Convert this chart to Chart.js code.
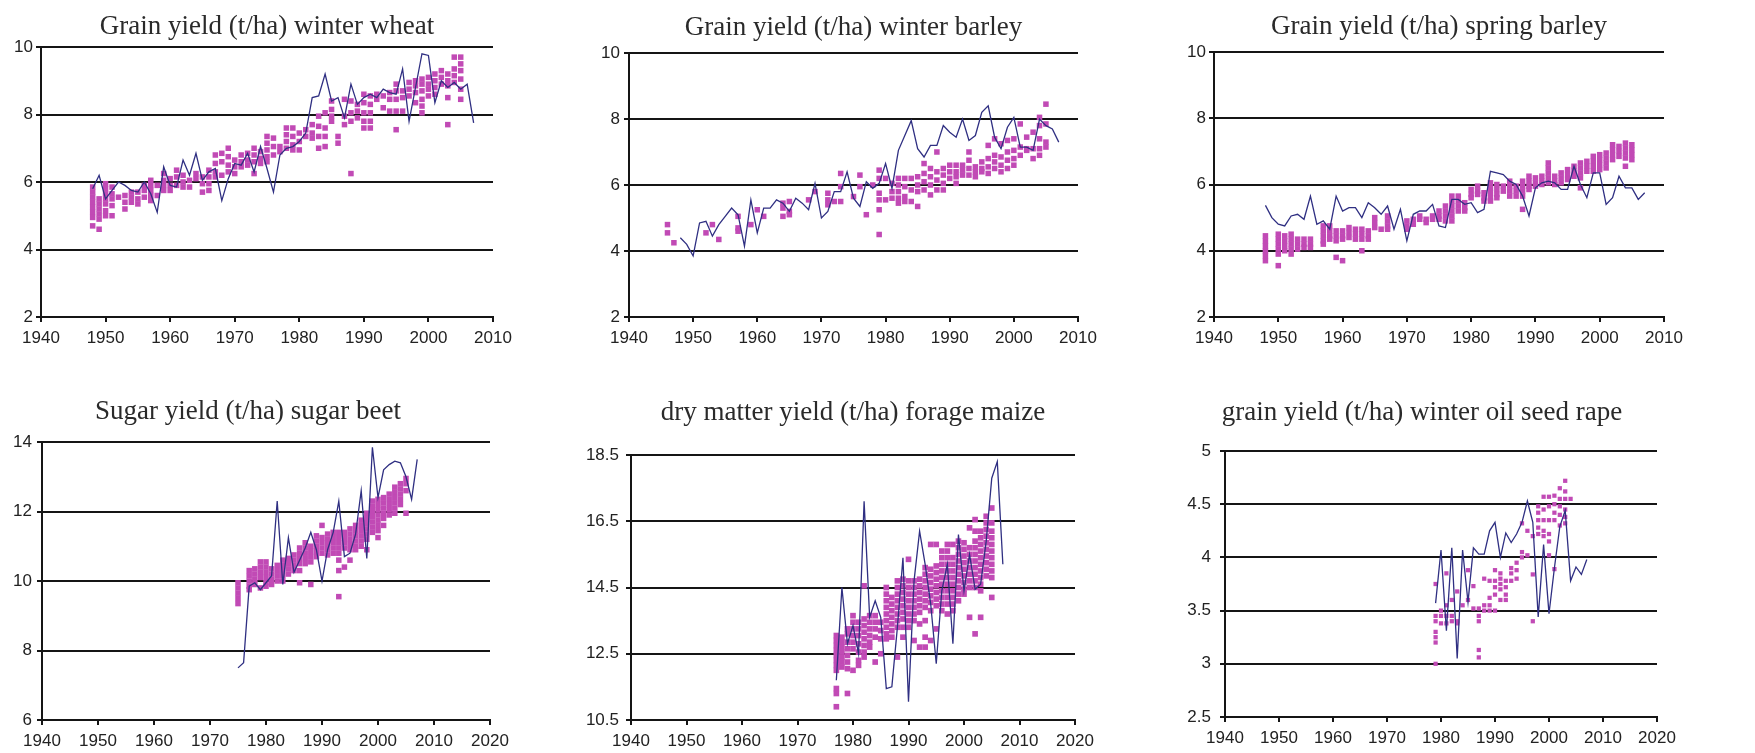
<!DOCTYPE html>
<html>
<head>
    <meta charset="UTF-8">
    <title>Crop yields</title>
    <style>
        body { margin: 0; background: #fff; width: 1755px; height: 753px; overflow: hidden; position: relative; }
        canvas { position: absolute; }
    </style>
</head>
<body>
<canvas id="c1"></canvas>
<canvas id="c2"></canvas>
<canvas id="c3"></canvas>
<canvas id="c4"></canvas>
<canvas id="c5"></canvas>
<canvas id="c6"></canvas>
<script src="https://cdn.jsdelivr.net/npm/chart.js"></script>
<script>
    // tick labels
    var xTicksTop = [1940, 1950, 1960, 1970, 1980, 1990, 2000, 2010];
    var xTicksBottom = [1940, 1950, 1960, 1970, 1980, 1990, 2000, 2010, 2020];
    var yTicksGrain = [2, 4, 6, 8, 10];
    var yTicksBeet = [6, 8, 10, 12, 14];
    var yTicksMaize = [10.5, 12.5, 14.5, 16.5, 18.5];
    var yTicksRape = [2.5, 3, 3.5, 4, 4.5, 5];

    // line series [year, value]
    var wheatLine = [[1948,5.8],[1949,6.2],[1950,5.5],[1951,5.75],[1952,6.0],[1953,5.9],[1954,5.75],[1955,5.7],[1956,6.0],[1957,5.65],
        [1958,5.1],[1959,6.45],[1960,5.9],[1961,5.85],[1962,6.65],[1963,6.2],[1964,6.85],[1965,6.05],[1966,6.3],[1967,6.4],
        [1968,5.45],[1969,6.1],[1970,6.55],[1971,6.5],[1972,6.85],[1973,6.3],[1974,7.05],[1975,6.4],[1976,5.7],[1977,6.8],
        [1978,7.0],[1979,7.05],[1980,7.2],[1981,7.45],[1982,8.5],[1983,8.55],[1984,9.2],[1985,8.4],[1986,8.5],[1987,7.9],
        [1988,8.9],[1989,8.3],[1990,8.5],[1991,8.6],[1992,8.5],[1993,8.75],[1994,8.65],[1995,8.6],[1996,9.35],[1997,7.8],
        [1998,8.8],[1999,9.8],[2000,9.75],[2001,8.35],[2002,9.0],[2003,8.8],[2004,8.95],[2005,8.75],[2006,8.9],[2007,7.75]];
    var winterBarleyLine = [[1948,4.4],[1949,4.2],[1950,3.85],[1951,4.85],[1952,4.9],[1953,4.45],[1954,4.8],[1955,5.05],[1956,5.3],[1957,5.1],
        [1958,4.15],[1959,5.55],[1960,4.55],[1961,5.3],[1962,5.3],[1963,5.55],[1964,5.45],[1965,5.2],[1966,5.6],[1967,5.45],
        [1968,5.25],[1969,6.05],[1970,5.0],[1971,5.2],[1972,5.8],[1973,5.8],[1974,6.4],[1975,5.6],[1976,5.35],[1977,6.1],
        [1978,5.9],[1979,6.05],[1980,6.65],[1981,5.9],[1982,7.05],[1983,7.5],[1984,7.95],[1985,7.1],[1986,6.85],[1987,7.2],
        [1988,7.2],[1989,7.8],[1990,7.6],[1991,7.45],[1992,8.0],[1993,7.35],[1994,7.5],[1995,8.2],[1996,8.4],[1997,7.45],
        [1998,7.1],[1999,7.75],[2000,8.05],[2001,7.15],[2002,7.15],[2003,7.05],[2004,8.0],[2005,7.8],[2006,7.7],[2007,7.3]];
    var springBarleyLine = [[1948,5.37],[1949,5.0],[1950,4.8],[1951,4.75],[1952,5.05],[1953,5.1],[1954,4.95],[1955,5.65],[1956,4.8],[1957,4.9],
        [1958,4.65],[1959,5.65],[1960,5.2],[1961,5.3],[1962,5.3],[1963,5.0],[1964,5.45],[1965,5.3],[1966,5.1],[1967,5.35],
        [1968,4.65],[1969,5.25],[1970,4.3],[1971,5.1],[1972,5.2],[1973,5.2],[1974,5.4],[1975,4.75],[1976,4.7],[1977,5.55],
        [1978,5.55],[1979,5.4],[1980,5.45],[1981,5.15],[1982,5.25],[1983,6.4],[1984,6.35],[1985,6.3],[1986,6.1],[1987,6.0],
        [1988,5.65],[1989,5.05],[1990,5.9],[1991,6.05],[1992,6.1],[1993,6.05],[1994,5.85],[1995,5.85],[1996,6.55],[1997,6.0],
        [1998,5.6],[1999,6.35],[2000,6.35],[2001,5.4],[2002,5.6],[2003,6.25],[2004,5.9],[2005,5.9],[2006,5.55],[2007,5.75]];
    var beetLine = [[1975,7.5],[1976,7.65],[1977,9.85],[1978,9.95],[1979,9.75],[1980,9.95],[1981,10.15],[1982,12.3],[1983,9.9],[1984,11.25],
        [1985,10.25],[1986,10.6],[1987,10.95],[1988,11.4],[1989,10.9],[1990,10.0],[1991,10.9],[1992,11.4],[1993,12.3],[1994,10.7],
        [1995,10.8],[1996,11.35],[1997,12.6],[1998,10.65],[1999,13.85],[2000,12.4],[2001,13.2],[2002,13.35],[2003,13.45],[2004,13.4],
        [2005,13.0],[2006,12.35],[2007,13.5]];
    var maizeLine = [[1977,11.7],[1978,14.5],[1979,12.8],[1980,13.35],[1981,12.5],[1982,17.1],[1983,13.6],[1984,14.1],[1985,13.6],[1986,11.45],
        [1987,11.5],[1988,13.3],[1989,15.4],[1990,11.05],[1991,14.7],[1992,16.2],[1993,15.2],[1994,14.0],[1995,12.2],[1996,14.4],
        [1997,15.2],[1998,12.8],[1999,16.1],[2000,14.4],[2001,15.5],[2002,14.45],[2003,14.6],[2004,15.9],[2005,17.8],[2006,18.3],
        [2007,15.2]];
    var rapeLine = [[1979,3.57],[1980,4.07],[1981,3.31],[1982,4.09],[1983,3.05],[1984,4.07],[1985,3.58],[1986,4.09],[1987,4.03],[1988,4.03],
        [1989,4.25],[1990,4.33],[1991,4.0],[1992,4.23],[1993,4.14],[1994,4.22],[1995,4.33],[1996,4.53],[1997,4.33],[1998,3.44],
        [1999,4.12],[2000,3.47],[2001,3.9],[2002,4.29],[2003,4.44],[2004,3.78],[2005,3.91],[2006,3.84],[2007,3.98]];

    // site observations [year, [values]]
    var wheatPts = [[1948,[5.85,5.7,5.55,5.4,5.25,5.1,4.95,4.7]],[1949,[5.5,5.35,5.2,5.05,4.9,4.6]],[1950,[5.95,5.8,5.65,5.5,5.35,5.15,5.0]],
        [1951,[5.85,5.65,5.5,5.3,5.0]],[1952,[5.55]],[1953,[5.6,5.4,5.2]],[1954,[5.7,5.55,5.4]],[1955,[5.7,5.5,5.35]],
        [1956,[5.9,5.75,5.55]],[1957,[6.05,5.9,5.75,5.6,5.45]],[1958,[5.9,5.6]],[1959,[6.25,6.05,5.9,5.75]],[1960,[6.1,5.9,5.75]],
        [1961,[6.35,6.15,5.9]],[1962,[6.2,6.0,5.85]],[1963,[6.05,5.85]],[1964,[6.25,6.1]],[1965,[6.15,5.95,5.7]],
        [1966,[6.35,6.15,5.95,5.75]],[1967,[6.8,6.55,6.3,6.15]],[1968,[6.85,6.6,6.2]],[1969,[7.0,6.75,6.5,6.3]],
        [1970,[6.65,6.45,6.25]],[1971,[6.8,6.6,6.45]],[1972,[6.85,6.65,6.5]],[1973,[7.0,6.8,6.6,6.25]],[1974,[6.9,6.7,6.55]],
        [1975,[7.35,7.15,6.95,6.75,6.6]],[1976,[7.3,7.05,6.8]],[1977,[7.05,6.9]],[1978,[7.6,7.4,7.2,7.0]],[1979,[7.6,7.35,7.1,6.95]],
        [1980,[7.45,7.2,6.95]],[1981,[7.55,7.35]],[1982,[7.7,7.45,7.3]],[1983,[7.95,7.65,7.35,7.0]],[1984,[8.05,7.6,7.35,7.05]],
        [1985,[8.4,8.15,7.95,7.8]],[1986,[7.35,7.15]],[1987,[8.45,7.95,7.7]],[1988,[8.4,8.05,7.8,6.25]],[1989,[8.3,8.1,7.9]],
        [1990,[8.6,8.35,8.05,7.8,7.6]],[1991,[8.55,8.3,8.05,7.8,7.6]],[1992,[8.6,8.45]],[1993,[8.55,8.2]],[1994,[8.65,8.45,8.1]],
        [1995,[8.9,8.7,8.45,8.1,7.55]],[1996,[8.7,8.5,8.1]],[1997,[8.95,8.75,8.55]],[1998,[9.0,8.85,8.65,8.35]],
        [1999,[9.05,8.9,8.7,8.45,8.25,8.05]],[2000,[9.1,8.9,8.75,8.55]],[2001,[9.2,9.0,8.8,8.6]],[2002,[9.3,9.1,8.9]],
        [2003,[9.2,9.0,8.85,8.5,7.7]],[2004,[9.7,9.35,9.15,8.95]],[2005,[9.7,9.5,9.3,9.05,8.75,8.45]]];
    var winterBarleyPts = [[1946,[4.8,4.55]],[1947,[4.25]],[1952,[4.55]],[1953,[4.8]],[1954,[4.35]],[1957,[5.05,4.7,4.6]],[1959,[4.8]],
        [1960,[5.25]],[1961,[5.05]],[1964,[5.45,5.3,5.05]],[1965,[5.5,5.2,5.1]],[1968,[5.55]],[1969,[5.8]],[1971,[5.75,5.55,5.4]],
        [1972,[5.5]],[1973,[6.35,5.95,5.5]],[1975,[5.65]],[1976,[6.3,5.95]],[1977,[5.1]],[1978,[6.0]],[1979,[6.45,6.2,5.75,5.55,5.25,4.5]],
        [1980,[6.2,5.55]],[1981,[6.05,5.8,5.6]],[1982,[6.2,6.0,5.8,5.6,5.45]],[1983,[6.2,5.95,5.65,5.5]],[1984,[6.2,5.85,5.5]],
        [1985,[6.25,6.0,5.8,5.35]],[1986,[6.65,6.35,6.1,5.85]],[1987,[6.5,6.25,6.0,5.7]],[1988,[7.0,6.4,6.15,5.85]],
        [1989,[6.5,6.3,6.05,5.85]],[1990,[6.6,6.4,6.2]],[1991,[6.6,6.4,6.25,6.05]],[1992,[6.6,6.45,6.3]],[1993,[7.0,6.75,6.5,6.3]],
        [1994,[6.55,6.4,6.25]],[1995,[6.7,6.5,6.4]],[1996,[7.2,6.8,6.55,6.35]],[1997,[7.4,6.9,6.7,6.5]],[1998,[7.25,6.85,6.6,6.4]],
        [1999,[7.35,7.0,6.75,6.5]],[2000,[7.4,7.05,6.8,6.6]],[2001,[7.85,7.15,6.9]],[2002,[7.45,7.1,7.05]],[2003,[7.6,7.1,6.8]],
        [2004,[8.05,7.8,7.4,7.1,6.9]],[2005,[8.45,7.85,7.3,7.15]]];
    var springBarleyPts = [[1948,[4.45,4.3,4.15,4.0,3.85,3.7]],[1950,[4.5,4.35,4.2,4.05,3.9,3.55]],[1951,[4.45,4.3,4.15,4.0]],
        [1952,[4.5,4.35,4.2,4.05,3.9]],[1953,[4.35,4.2,4.05]],[1954,[4.35,4.2,4.1]],[1955,[4.35,4.2,4.1]],[1957,[4.75,4.6,4.45,4.3,4.2]],
        [1958,[4.75,4.6,4.45,4.35]],[1959,[4.6,4.45,4.3,3.8]],[1960,[4.6,4.45,4.35,3.7]],[1961,[4.7,4.55,4.4]],[1962,[4.65,4.5,4.35]],
        [1963,[4.65,4.5,4.35,4.0]],[1964,[4.6,4.45,4.35]],[1965,[5.0,4.85,4.7]],[1966,[4.65]],[1967,[5.05,4.9,4.75,4.65]],
        [1970,[4.9,4.75,4.65]],[1971,[4.95,4.8]],[1972,[5.05,4.95]],[1973,[4.95,4.85]],[1974,[5.05,4.95]],[1975,[5.2,5.05,4.95]],
        [1976,[5.35,5.2,5.05,4.9]],[1977,[5.65,5.5,5.35,5.2,5.05,4.9]],[1978,[5.65,5.5,5.35,5.2]],[1979,[5.45,5.3,5.2]],
        [1980,[5.85,5.7,5.6]],[1981,[5.95,5.8,5.7]],[1982,[5.75,5.6,5.5]],[1983,[6.05,5.9,5.75,5.6,5.5]],[1984,[6.0,5.85,5.7,5.6]],
        [1985,[5.95,5.8]],[1986,[6.1,5.95,5.8,5.65]],[1987,[5.95,5.8,5.65]],[1988,[6.1,5.95,5.8,5.65,5.25]],[1989,[6.25,6.1,5.95,5.85]],
        [1990,[6.2,6.05,5.95]],[1991,[6.25,6.1,6.0]],[1992,[6.65,6.5,6.35,6.2,6.05]],[1993,[6.25,6.1,6.0]],[1994,[6.35,6.2,6.05]],
        [1995,[6.45,6.3,6.15]],[1996,[6.55,6.4,6.25]],[1997,[6.65,6.5,6.35,6.2,5.9]],[1998,[6.7,6.55,6.4]],[1999,[6.85,6.7,6.55,6.4]],
        [2000,[6.9,6.75,6.6,6.45]],[2001,[6.95,6.8,6.65,6.5]],[2002,[7.2,7.05,6.9,6.75]],[2003,[7.15,7.0,6.85]],
        [2004,[7.25,7.1,6.95,6.8,6.55]],[2005,[7.2,7.05,6.9,6.75]]];
    var beetPts = [[1975,[9.95,9.8,9.65,9.5,9.35]],[1977,[10.3,10.15,10.0,9.85,9.75]],[1978,[10.35,10.2,10.05,9.9]],
        [1979,[10.55,10.4,10.25,10.1,9.8]],[1980,[10.55,10.4,10.25,10.1,9.95,9.85]],[1981,[10.35,10.2,10.05,9.9]],
        [1982,[10.45,10.3,10.15,10.0]],[1983,[10.6,10.45,10.3,10.15,10.0]],[1984,[10.65,10.5,10.35,10.2]],[1985,[10.75,10.6,10.45,10.3]],
        [1986,[10.95,10.8,10.65,10.5,10.3,9.95]],[1987,[11.1,10.95,10.8,10.65,10.5]],[1988,[11.0,10.85,10.7,10.55,9.9]],
        [1989,[11.3,11.15,11.0,10.85,10.7]],[1990,[11.6,11.25,11.1,10.95,10.8]],[1991,[11.35,11.2,11.05,10.9,10.75]],
        [1992,[11.4,11.25,11.1,10.95,10.8]],[1993,[11.4,11.25,11.1,10.95,10.8,10.6,10.3,9.55]],[1994,[11.4,11.25,11.1,10.95,10.4]],
        [1995,[11.5,11.35,11.2,11.05,10.9,10.6]],[1996,[11.6,11.45,11.3,11.15,11.0,10.9]],[1997,[11.75,11.6,11.45,11.3,11.15,11.0]],
        [1998,[11.95,11.8,11.65,11.5,11.35,11.2,10.9]],[1999,[12.3,12.15,12.0,11.85,11.7,11.55,11.4]],
        [2000,[12.35,12.2,12.05,11.9,11.75,11.6,11.45,11.25]],[2001,[12.4,12.25,12.1,11.95,11.8,11.6]],
        [2002,[12.5,12.35,12.2,12.05,11.9]],[2003,[12.7,12.55,12.4,12.25,12.1,11.95]],[2004,[12.8,12.65,12.5,12.35,12.2]],
        [2005,[12.95,12.8,12.6,11.95]]];
    var maizePts = [[1977,[13.05,12.9,12.75,12.6,12.45,12.3,12.15,12.0,11.45,11.3,10.9]],[1978,[13.0,12.85,12.7,12.55,12.4,12.25,12.1]],
        [1979,[13.25,13.1,12.85,12.65,12.45,12.25,12.05,11.3]],[1980,[13.65,13.45,13.25,13.05,12.85,12.65,12.0]],
        [1981,[13.45,13.25,13.05,12.8,12.55,12.3,12.15]],[1982,[14.55,13.55,13.35,13.15,12.95,12.75,12.55,12.4]],
        [1983,[13.65,13.45,13.25,13.05,12.85,12.7]],[1984,[13.65,13.45,13.25,13.0,12.25]],[1985,[13.45,13.2,12.95,12.5]],
        [1986,[14.5,14.3,14.1,13.9,13.7,13.5,13.3,13.1,12.95]],[1987,[14.2,14.0,13.8,13.6,13.4,13.2,13.0]],
        [1988,[14.7,14.5,14.3,14.1,13.9,13.7,13.5,13.3,12.4]],[1989,[14.75,14.55,14.35,14.15,13.95,13.75,13.55,13.3,13.0]],
        [1990,[15.35,14.7,14.5,14.3,14.1,13.9,13.7,13.5,13.3]],[1991,[14.7,14.5,14.3,14.1,13.9,13.7,13.5,12.9]],
        [1992,[14.75,14.55,14.35,14.15,13.95,13.75,13.4,12.7]],[1993,[15.1,14.9,14.7,14.5,14.3,14.1,13.9,13.5,13.0,12.7]],
        [1994,[15.8,15.05,14.85,14.65,14.45,14.25,14.05,13.8,12.9]],[1995,[15.8,15.15,14.95,14.75,14.55,14.35,14.15,13.95,13.25]],
        [1996,[15.6,15.4,15.2,15.0,14.8,14.6,14.4,14.2,14.0,13.8]],[1997,[15.8,15.6,15.4,15.2,15.0,14.8,14.6,14.4,14.2,14.0,13.7]],
        [1998,[15.8,15.4,15.2,15.0,14.8,14.6,14.4,14.2,14.0,13.8]],[1999,[15.9,15.7,15.5,15.3,15.1,14.9,14.7,14.5,14.3,14.1]],
        [2000,[15.85,15.65,15.45,15.25,15.05,14.85,14.65,14.45,14.3]],[2001,[16.3,15.7,15.5,15.3,15.1,14.9,14.7,14.5,13.6]],
        [2002,[16.55,16.2,15.9,15.7,15.5,15.3,15.1,14.9,14.7,14.5,13.1]],[2003,[16.2,16.0,15.8,15.6,15.4,15.2,15.0,14.8,14.6,14.4,13.6]],
        [2004,[16.65,16.45,16.25,16.05,15.85,15.65,15.45,15.25,15.05,14.85]],[2005,[16.9,16.45,16.2,16.0,15.8,15.6,15.4,15.2,15.0,14.8,14.2]]];
    var rapePts = [[1979,[3.75,3.45,3.4,3.3,3.25,3.2,3.0]],[1980,[3.5,3.45,3.38]],[1981,[3.85,3.55,3.45,3.38]],[1982,[3.6,3.45,3.4]],
        [1983,[3.68,3.4,3.38]],[1984,[3.55]],[1985,[3.88,3.6]],[1986,[3.73,3.52]],[1987,[3.52,3.45,3.4,3.13,3.06]],[1988,[3.8,3.55,3.5]],
        [1989,[3.78,3.62,3.55,3.5]],[1990,[3.88,3.78,3.72,3.65,3.5]],[1991,[3.85,3.8,3.75,3.7,3.6]],[1992,[3.78,3.72,3.65,3.6]],
        [1993,[3.9,3.85,3.78]],[1994,[3.95,3.88,3.8]],[1995,[4.32,4.05,4.0]],[1996,[4.25,4.02]],[1997,[4.2,3.84,3.4]],
        [1998,[4.48,4.42,4.35,4.28,4.22]],[1999,[4.57,4.45,4.35,4.25,4.2]],[2000,[4.57,4.48,4.35,4.22,4.15,4.02]],
        [2001,[4.58,4.5,4.42,4.35,3.89]],[2002,[4.65,4.55,4.48,4.4,4.3]],[2003,[4.72,4.62,4.55,4.45,4.38,4.32]],[2004,[4.55]]];

    // page placement of each panel: plot box [left, top, right, bottom]
    // yw = width of the y axis box; titleFull = title spans axis + plot (shifts it left a little)
    var panels = [
        {id: "c1", title: "Grain yield (t/ha) winter wheat", line: wheatLine, pts: wheatPts, xTicks: xTicksTop, yTicks: yTicksGrain,
            box: [41, 47, 493, 317], top: 0, titleMid: 27, titleFull: false, yw: 41, yPad: 3, dot: 3.9},
        {id: "c2", title: "Grain yield (t/ha) winter barley", line: winterBarleyLine, pts: winterBarleyPts, xTicks: xTicksTop, yTicks: yTicksGrain,
            box: [629, 53, 1078, 317], top: 0, titleMid: 28, titleFull: false, yw: 50, yPad: 4, dot: 3.9},
        {id: "c3", title: "Grain yield (t/ha) spring barley", line: springBarleyLine, pts: springBarleyPts, xTicks: xTicksTop, yTicks: yTicksGrain,
            box: [1214, 52, 1664, 317], top: 0, titleMid: 27, titleFull: false, yw: 50, yPad: 3, dot: 3.9},
        {id: "c4", title: "Sugar yield (t/ha) sugar beet", line: beetLine, pts: beetPts, xTicks: xTicksBottom, yTicks: yTicksBeet,
            box: [42, 442, 490, 720], top: 370, titleMid: 412, titleFull: true, yw: 36, yPad: 5, dot: 3.9},
        {id: "c5", title: "dry matter yield (t/ha) forage maize", line: maizeLine, pts: maizePts, xTicks: xTicksBottom, yTicks: yTicksMaize,
            box: [631, 455, 1075, 720], top: 370, titleMid: 413, titleFull: false, yw: 55, yPad: 7, dot: 4.0},
        {id: "c6", title: "grain yield (t/ha) winter oil seed rape", line: rapeLine, pts: rapePts, xTicks: xTicksBottom, yTicks: yTicksRape,
            box: [1225, 451, 1657, 717], top: 370, titleMid: 413, titleFull: true, yw: 38, yPad: 9, dot: 3.0}
    ];

    var tickFont = {family: "'Liberation Sans', Arial, sans-serif", size: 17};
    var axisColor = "#151515";

    function buildChart(p) {
        var l = p.box[0], t = p.box[1], r = p.box[2], b = p.box[3];
        var padR = 26, xh = 36;
        var left = l - p.yw;
        var cv = document.getElementById(p.id);
        cv.width = r + padR - left;
        cv.height = b + xh - p.top;
        cv.style.left = left + "px";
        cv.style.top = p.top + "px";

        var lineData = p.line.map(function (d) { return {x: d[0], y: d[1]}; });
        var ptData = [];
        p.pts.forEach(function (d) {
            d[1].forEach(function (v) { ptData.push({x: d[0], y: v}); });
        });

        new Chart(cv.getContext("2d"), {
            type: "scatter",
            data: {
                datasets: [
                    {
                        data: lineData,
                        showLine: true,
                        borderColor: "#2f2f82",
                        borderWidth: 1.3,
                        pointRadius: 0,
                        tension: 0,
                        order: 1
                    },
                    {
                        data: ptData,
                        pointStyle: "rect",
                        pointRadius: p.dot,
                        backgroundColor: "#c14ab5",
                        borderWidth: 0,
                        order: 2
                    }
                ]
            },
            options: {
                responsive: false,
                animation: false,
                events: [],
                layout: {padding: {left: 0, right: padR, top: 0, bottom: 0}},
                plugins: {
                    legend: {display: false},
                    tooltip: {enabled: false},
                    title: {
                        display: true,
                        text: p.title,
                        fullSize: p.titleFull,
                        color: "#2a2a2a",
                        font: {family: "'Liberation Serif', 'Times New Roman', serif", size: 27, weight: "normal", lineHeight: 1.2},
                        padding: {top: p.titleMid - 16.2 - p.top, bottom: t - p.titleMid - 16.2}
                    }
                },
                scales: {
                    x: {
                        type: "linear",
                        min: p.xTicks[0],
                        max: p.xTicks[p.xTicks.length - 1],
                        afterBuildTicks: function (s) { s.ticks = p.xTicks.map(function (v) { return {value: v}; }); },
                        afterFit: function (s) { s.height = xh; },
                        grid: {drawOnChartArea: false, drawTicks: true, tickLength: 5, color: axisColor, lineWidth: 2},
                        border: {color: axisColor, width: 2},
                        ticks: {color: "#222", font: tickFont, padding: 6, maxRotation: 0, autoSkip: false,
                            callback: function (v) { return String(v); }}
                    },
                    y: {
                        min: p.yTicks[0],
                        max: p.yTicks[p.yTicks.length - 1],
                        afterBuildTicks: function (s) { s.ticks = p.yTicks.map(function (v) { return {value: v}; }); },
                        afterFit: function (s) { s.width = p.yw; },
                        grid: {color: axisColor, lineWidth: 2, tickLength: 5},
                        border: {color: axisColor, width: 2},
                        ticks: {color: "#222", font: tickFont, padding: p.yPad, autoSkip: false,
                            callback: function (v) { return String(v); }}
                    }
                }
            }
        });
    }

    panels.forEach(buildChart);
</script>
</body>
</html>
